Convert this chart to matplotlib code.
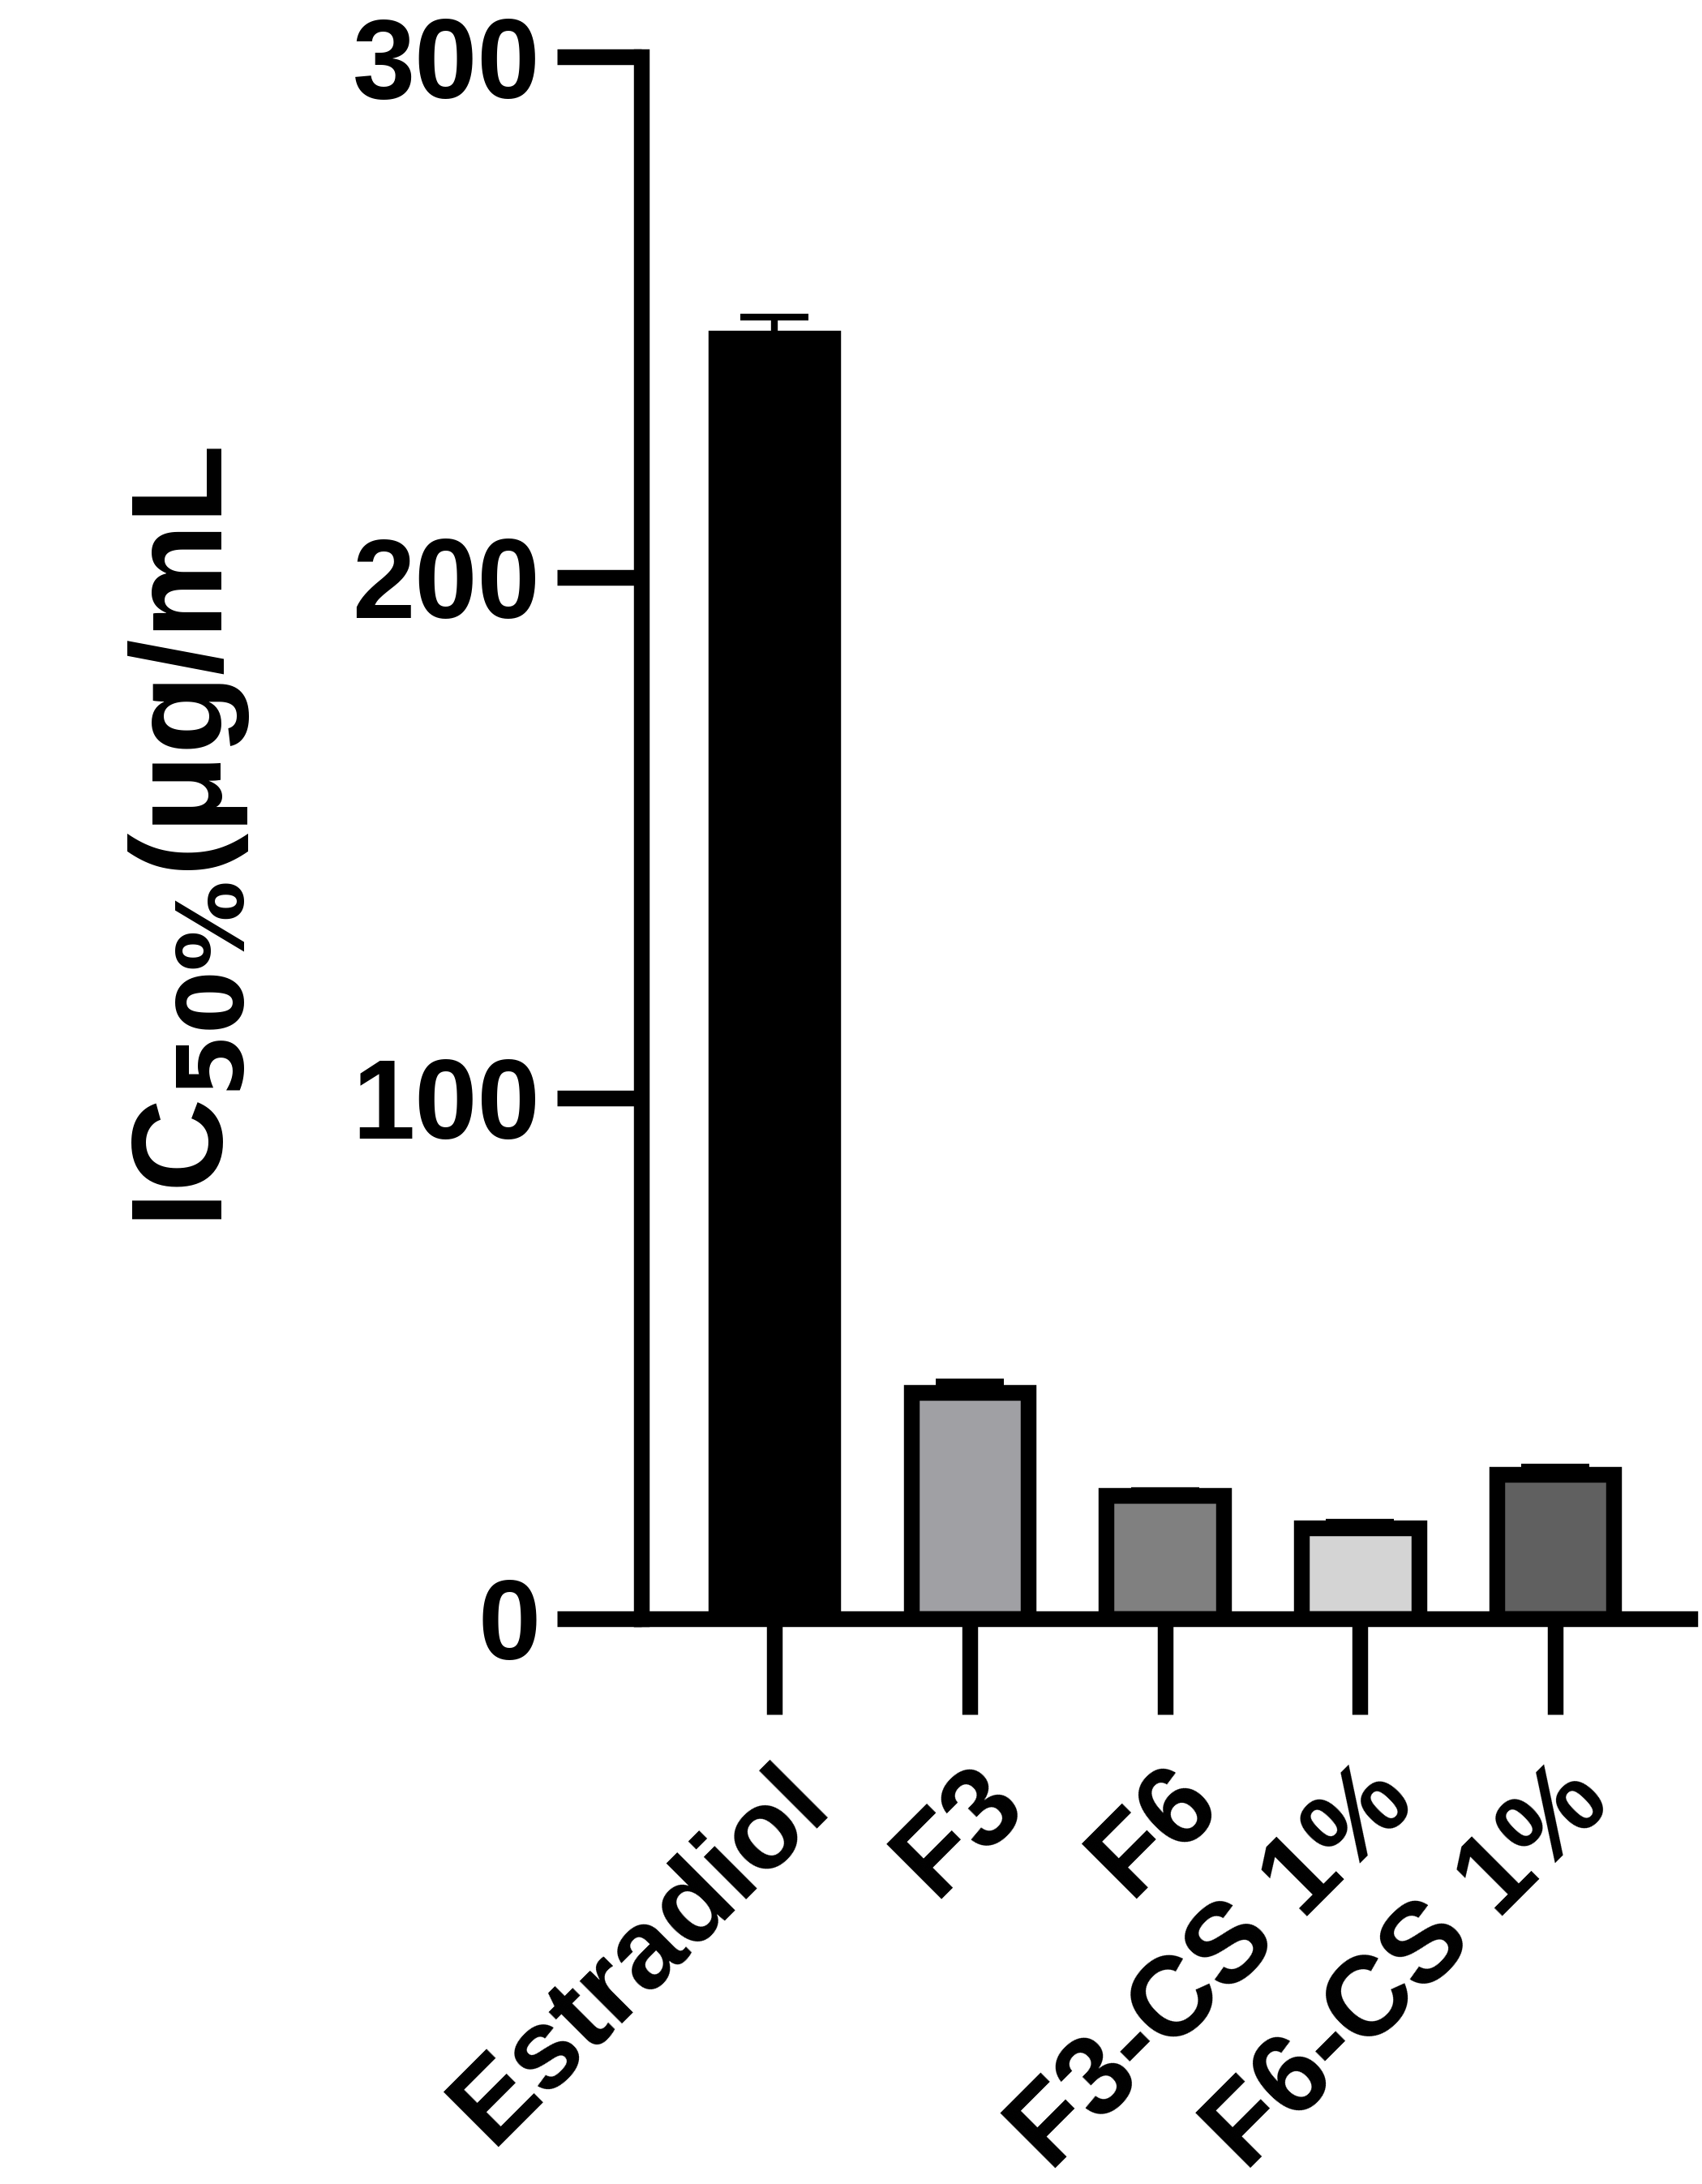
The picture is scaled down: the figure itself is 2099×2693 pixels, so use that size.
import numpy as np
import matplotlib.pyplot as plt

plt.rcParams['font.family'] = ['Liberation Sans', 'DejaVu Sans']
plt.rcParams['font.weight'] = 'bold'

groups = ["Estradiol", "F3", "F6", "F3-CS 1%", "F6-CS 1%"]
means = [246, 43.4, 23.6, 17.4, 27.6]
errs = [4.0, 2.0, 1.0, 1.0, 1.4]
colors = ["#000000", "#A0A0A4", "#808080", "#D4D4D4", "#606060"]

fig = plt.figure(figsize=(20.99, 26.93), dpi=100)
ax = fig.add_axes([0.377, 0.259, 0.616, 0.715])
x = np.arange(len(groups))
ax.bar(x, means, width=0.6, color=colors, edgecolor="black", linewidth=14, zorder=2)
ax.errorbar(x, means, yerr=[np.zeros(len(errs)), errs], fmt="none", ecolor="black",
            elinewidth=6, capsize=30, capthick=6, zorder=1)

ax.set_xlim(-0.68, 4.69)
ax.set_ylim(0, 300)
ax.set_yticks([0, 100, 200, 300])
ax.set_xticks(x)
ax.set_xticklabels(groups, rotation=45, ha="right", rotation_mode="anchor")
for s in ["top", "right"]:
    ax.spines[s].set_visible(False)
for s in ["left", "bottom"]:
    ax.spines[s].set_linewidth(14)
ax.tick_params(axis="both", width=14, length=75, labelsize=100, pad=15)
ax.tick_params(axis="x", length=85, pad=30)
ax.set_ylabel(r"IC$_{\mathbf{50\%}}$(μg/mL", fontsize=115, fontweight="bold", labelpad=90)
for t in ax.get_xticklabels() + ax.get_yticklabels():
    t.set_fontweight("bold")

fig.savefig("out.png", dpi=100)
